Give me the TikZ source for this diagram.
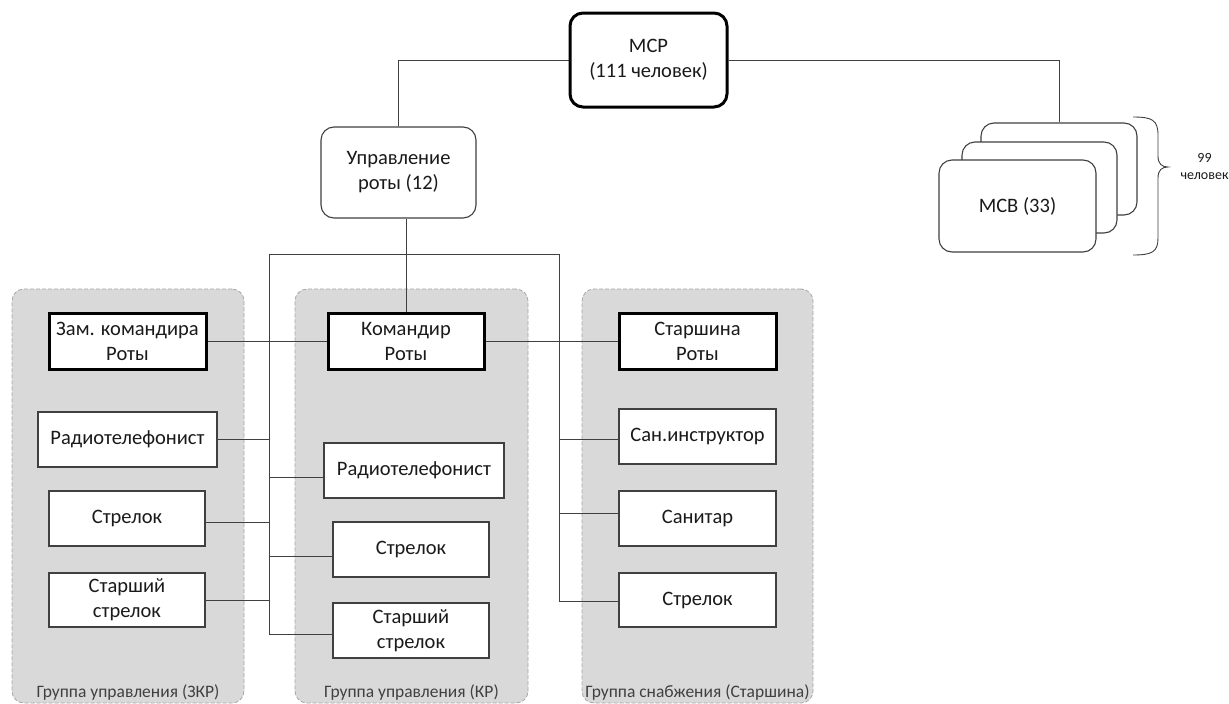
\documentclass[tikz,border=0pt]{standalone}
\usepackage{fontspec}
\setmainfont{Carlito}
\usetikzlibrary{calc}
\pgfdeclarelayer{bg}
\pgfdeclarelayer{lines}
\pgfsetlayers{bg,lines,main}
\definecolor{grpfill}{HTML}{D9D9D9}
\definecolor{grpline}{HTML}{A6A6A6}
\definecolor{lnc}{HTML}{404040}
\definecolor{txt}{HTML}{1A1A1A}
\tikzset{
  mainfont/.style={font=\fontsize{20.5}{25}\selectfont, text=txt},
  plainbox/.style={mainfont, draw=lnc, line width=1.1pt, fill=white, inner sep=0pt, align=center},
  thickbox/.style={mainfont, draw=black, line width=3pt, fill=white, inner sep=0pt, align=center},
  roundbox/.style={plainbox, rounded corners=13pt},
  topbox/.style={thickbox, rounded corners=13pt},
  grpbox/.style={draw=grpline, fill=grpfill, dashed, dash pattern=on 4pt off 2pt, line width=0.8pt, rounded corners=12pt, inner sep=0pt},
  grplabel/.style={font=\fontsize{17.5}{20}\selectfont, text=lnc, inner sep=0pt},
  conn/.style={draw=lnc, line width=1pt},
  sz/.style 2 args={minimum width=#1pt, minimum height=#2pt}
}
\begin{document}
\begin{tikzpicture}[x=1pt,y=-1pt]
\useasboundingbox (0,0) rectangle (1229,704);
% groups
\begin{pgfonlayer}{bg}
\fill[white] (0,0) rectangle (1229,704);
\node[grpbox, sz={232}{414}] (g1) at (128,496) {};
\node[grpbox, sz={233}{414}] (g2) at (411.5,496) {};
\node[grpbox, sz={231}{414}] (g3) at (697.5,496) {};
\node[grplabel] (g1l) at (128,693) {Группа управления (ЗКР)};
\node[grplabel] (g2l) at (411.5,693) {Группа управления (КР)};
\node[grplabel] (g3l) at (697.5,693) {Группа снабжения (Старшина)};
\end{pgfonlayer}
% top
\node[topbox, sz={157}{94}] (mcp) at (648.5,60) {МСР\\(111 человек)};
\node[roundbox, sz={155}{91}] (upr) at (398.5,172.5) {Управление\\роты (12)};
\node[roundbox, sz={156}{92}] (mcb3) at (1059,169) {};
\node[roundbox, sz={155}{91}] (mcb2) at (1039.5,187.5) {};
\node[roundbox, sz={157}{92}] (mcb1) at (1017.5,206) {МСВ (33)};
% leaders
\node[thickbox, sz={157}{56}] (zam) at (127.5,341) {Зам. командира\\Роты};
\node[thickbox, sz={156}{56}] (kom) at (406,341) {Командир\\Роты};
\node[thickbox, sz={157}{56}] (star) at (697.5,341) {Старшина\\Роты};
% group 1
\node[plainbox, sz={179}{55}] (zr) at (127.5,439.5) {Радиотелефонист};
\node[plainbox, sz={156}{55}] (zs) at (127,518.5) {Стрелок};
\node[plainbox, sz={156}{54}] (zss) at (127,600) {Старший\\стрелок};
% group 2
\node[plainbox, sz={180}{55}] (kr) at (414,470.5) {Радиотелефонист};
\node[plainbox, sz={156}{55}] (ks) at (411,549.5) {Стрелок};
\node[plainbox, sz={156}{55}] (kss) at (411,630.5) {Старший\\стрелок};
% group 3
\node[plainbox, sz={157}{55}] (ssi) at (697.5,436.5) {Сан.инструктор};
\node[plainbox, sz={157}{55}] (ssan) at (697.5,518.5) {Санитар};
\node[plainbox, sz={157}{54}] (sstr) at (697.5,600) {Стрелок};
% brace label
\node[font=\fontsize{14}{17}\selectfont, text=txt, align=center, inner sep=0pt] (cnt) at (1204.5,166.5) {99\\человек};
% connectors
\coordinate (tl) at (269,254);
\coordinate (tr) at (559,254);
\coordinate (b1) at (269,439);
\coordinate (b2) at (269,477);
\coordinate (b3) at (269,522);
\coordinate (b4) at (269,556);
\coordinate (b5) at (269,600);
\coordinate (b6) at (269,634);
\coordinate (c1) at (559,439);
\coordinate (c2) at (559,513);
\coordinate (c3) at (559,601);
\coordinate (bt) at (1133,117);
\coordinate (bb) at (1133,255);
\begin{pgfonlayer}{lines}
\draw[conn] (mcp.west) -| (upr.north);
\draw[conn] (mcp.east) -| (mcb3.north);
\draw[conn] (upr.south -| kom.north) -- (kom.north);
\draw[conn] (zam.east) -- (kom.west);
\draw[conn] (kom.east) -- (star.west);
\draw[conn] (b6 -| kss.west) -- (b6) -- (tl) -- (tr) -- (c3) -- (c3 -| sstr.west);
\draw[conn] (b1) -- (b1 -| zr.east);
\draw[conn] (b2) -- (b2 -| kr.west);
\draw[conn] (b3) -- (b3 -| zs.east);
\draw[conn] (b4) -- (b4 -| ks.west);
\draw[conn] (b5) -- (b5 -| zss.east);
\draw[conn] (c1) -- (c1 -| ssi.west);
\draw[conn] (c2) -- (c2 -| ssan.west);
\draw[conn, line width=0.9pt] (bt) .. controls (1152,117) and (1158,120) .. (1158,135)
  -- (1158,156) .. controls (1158,164) and (1162,167) .. (1168,167)
  .. controls (1162,167) and (1158,170) .. (1158,178)
  -- (1158,238) .. controls (1158,252) and (1152,255) .. (bb);
\end{pgfonlayer}
\end{tikzpicture}
\end{document}
